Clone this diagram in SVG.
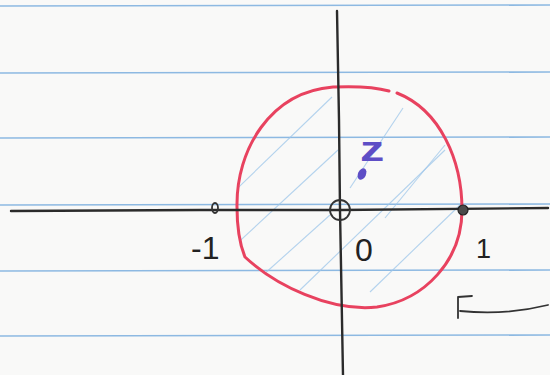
<svg xmlns="http://www.w3.org/2000/svg" width="550" height="375" viewBox="0 0 550 375">
  <style>
    .rule { stroke: #8db9e2; stroke-width: 1.6; fill: none; }
    .axis { stroke: #2b2b2b; stroke-width: 2.4; fill: none; stroke-linecap: round; }
    .ink { stroke: #333; stroke-width: 1.8; fill: none; stroke-linecap: round; stroke-linejoin: round; }
    .hatch { stroke: #9cc6ea; stroke-width: 1.1; fill: none; opacity: 0.75; }
    .red { stroke: #e8425f; stroke-width: 3; fill: none; stroke-linecap: round; }
    .lbl { font-family: "Liberation Sans", "DejaVu Sans", sans-serif; font-weight: normal; fill: #222; }
  </style>
  <defs>
    <clipPath id="disk">
      <path d="M 397 93 C 440 110, 462 160, 462 210 C 462 260, 425 300, 377 307 C 330 312, 275 285, 245 257 C 240 245, 237 225, 237 207 C 236 150, 270 92, 333 87 C 355 86, 375 87, 397 93 Z"/>
    </clipPath>
  </defs>
  <rect x="0" y="0" width="550" height="375" fill="#f9f9f8"/>
  <g id="paper">
    <line class="rule" x1="0" y1="6" x2="550" y2="5"/>
    <line class="rule" x1="0" y1="73" x2="550" y2="72"/>
    <line class="rule" x1="0" y1="138" x2="550" y2="137"/>
    <line class="rule" x1="0" y1="205" x2="550" y2="204"/>
    <line class="rule" x1="0" y1="271" x2="550" y2="270"/>
    <line class="rule" x1="0" y1="336" x2="550" y2="335"/>
  </g>
  <g id="shading" clip-path="url(#disk)">
    <line class="hatch" x1="215" y1="210" x2="332" y2="97"/>
    <line class="hatch" x1="230" y1="250" x2="338" y2="150"/>
    <line class="hatch" x1="262" y1="276" x2="330" y2="215"/>
    <line class="hatch" x1="300" y1="290" x2="445" y2="150"/>
    <line class="hatch" x1="350" y1="188" x2="403" y2="108"/>
    <line class="hatch" x1="370" y1="292" x2="460" y2="205"/>
    <line class="hatch" x1="385" y1="218" x2="445" y2="145"/>
  </g>
  <g id="unit-circle">
    <path class="red" d="M 397 93 C 440 110, 462 160, 462 210 C 462 260, 425 300, 377 307 C 330 312, 275 285, 245 257 C 240 245, 237 225, 237 207 C 236 150, 270 92, 333 87 C 355 86, 375 87, 389 91"/>
  </g>
  <g id="axes">
    <path class="axis" d="M 11 211 L 200 210 L 340 210 L 548 208"/>
    <path class="axis" d="M 337 11 L 339 120 L 340 210 L 343 375"/>
  </g>
  <g id="origin">
    <circle class="ink" cx="340" cy="210" r="10"/>
  </g>
  <g id="point-minus-one">
    <ellipse class="ink" cx="215" cy="208" rx="3" ry="5" stroke-width="1.5"/>
  </g>
  <g id="point-one">
    <circle cx="463" cy="210" r="5" fill="#4a4a4a" stroke="#222" stroke-width="1.2"/>
  </g>
  <g id="point-z">
    <ellipse cx="362" cy="174" rx="4" ry="6" transform="rotate(25 362 174)" fill="#5e4ec6"/>
    <text x="0" y="0" font-family="Liberation Sans, sans-serif" font-size="36" font-weight="bold" fill="#5e4ec6" transform="translate(360 161) scale(1.35 1)">z</text>
  </g>
  <g id="labels">
    <text class="lbl" x="191" y="259" font-size="32">-1</text>
    <text class="lbl" x="355" y="261" font-size="32">0</text>
    <text class="lbl" x="476" y="258" font-size="27">1</text>
  </g>
  <g id="arrow">
    <path class="ink" d="M 472 296 L 458 297 L 458 318 M 460 311 C 490 314, 520 312, 548 305"/>
  </g>
</svg>
